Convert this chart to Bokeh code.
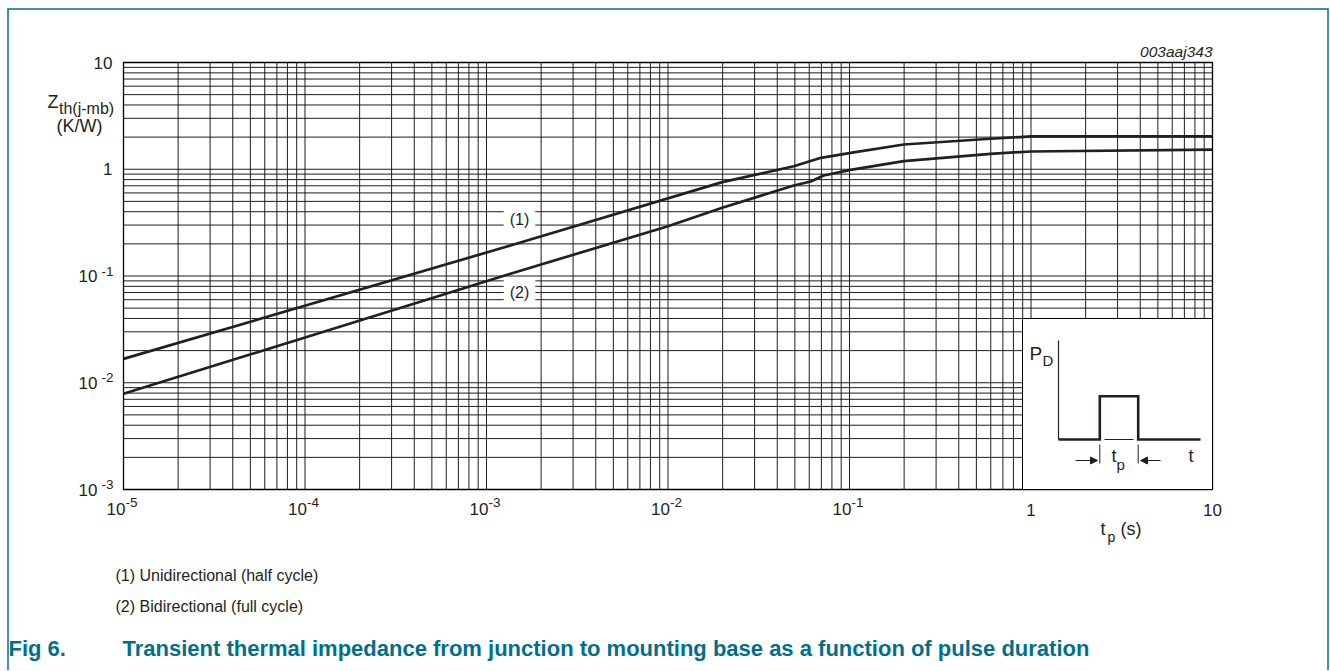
import math
from bokeh.plotting import figure
from bokeh.models import Range1d, LinearScale, Label, Arrow, NormalHead
from bokeh.embed import file_html
from bokeh.resources import INLINE

# ---------------- data ----------------
t_curve1 = [1e-5, 1.355e-3, 0.0199, 0.0493, 0.0697, 0.1015, 0.199, 0.598, 1.0, 10.0]
z_curve1 = [0.01675, 0.193, 0.757, 1.068, 1.28, 1.426, 1.706, 1.93, 2.03, 2.03]

t_curve2 = [1e-5, 1.355e-3, 0.0099, 0.0199, 0.0493, 0.0612, 0.0721, 0.1015, 0.199, 0.598, 1.0, 10.0]
z_curve2 = [0.00788, 0.105, 0.291, 0.436, 0.705, 0.767, 0.873, 0.988, 1.19, 1.396, 1.467, 1.53]

x_decades = [-5, -4, -3, -2, -1, 0, 1]
y_decades = [-3, -2, -1, 0, 1]

curve_labels = ["(1)", "(2)"]
legend_lines = ["(1) Unidirectional (half cycle)", "(2) Bidirectional (full cycle)"]
fig_number = "Fig 6."
fig_caption = "Transient thermal impedance from junction to mounting base as a function of pulse duration"
doc_code = "003aaj343"

# ---------------- layout ----------------
W, H = 1330, 670
PL, PR, PT, PB = 123, 1212, 62, 489          # plot area on the page
FONT = "Liberation Sans"
INK = "#231f20"
TEAL = "#00708a"

xmin, xmax = 10.0 ** x_decades[0], 10.0 ** x_decades[-1]
ymin, ymax = 10.0 ** y_decades[0], 10.0 ** y_decades[-1]
dx = (PR - PL) / (x_decades[-1] - x_decades[0])
dy = (PB - PT) / (y_decades[-1] - y_decades[0])
x_lo = 10 ** (x_decades[0] - PL / dx)
x_hi = 10 ** (x_decades[-1] + (W - PR) / dx)
y_lo = 10 ** (y_decades[0] - (H - PB) / dy)
y_hi = 10 ** (y_decades[-1] + PT / dy)

p = figure(width=W, height=H, x_axis_type="log", y_axis_type="log",
           x_range=Range1d(x_lo, x_hi), y_range=Range1d(y_lo, y_hi),
           x_axis_location=None, y_axis_location=None,
           output_backend="svg", toolbar_location=None,
           min_border=0, min_border_left=0, min_border_right=0,
           min_border_top=0, min_border_bottom=0)
p.title.visible = False
p.xgrid.visible = False
p.ygrid.visible = False
p.background_fill_color = "white"
p.border_fill_color = "white"
p.outline_line_color = None

# page-pixel helper ranges for decorations
p.extra_x_ranges = {"px": Range1d(0, W)}
p.extra_x_scales = {"px": LinearScale()}
p.extra_y_ranges = {"py": Range1d(H, 0)}
p.extra_y_scales = {"py": LinearScale()}

# grid: every 1..9 x decade, limited to the plot area
xt = [m * 10.0 ** d for d in x_decades[:-1] for m in range(1, 10)] + [xmax]
yt = [m * 10.0 ** d for d in y_decades[:-1] for m in range(1, 10)] + [ymax]
p.segment(x0=xt, x1=xt, y0=[ymin] * len(xt), y1=[ymax] * len(xt),
          line_color="#111111", line_width=1, line_alpha=0.95)
p.segment(x0=[xmin] * len(yt), x1=[xmax] * len(yt), y0=yt, y1=yt,
          line_color="#111111", line_width=1, line_alpha=0.95)
p.line([xmin, xmax, xmax, xmin, xmin], [ymin, ymin, ymax, ymax, ymin],
       line_color="black", line_width=1.3)

# curves
p.line(t_curve1, z_curve1, line_width=2.7, line_color=INK, line_join="round")
p.line(t_curve2, z_curve2, line_width=2.7, line_color=INK, line_join="round")


def lab(x, y, text, size, align="left", baseline="middle", color=INK, style="normal",
        xr="px", yr="py", xo=0, yo=0, bg=None, pad=0):
    kw = dict(x=x, y=y, text=text, text_font=FONT, text_font_size=f"{size}px",
              text_align=align, text_baseline=baseline, text_color=color,
              text_font_style=style, x_offset=xo, y_offset=yo)
    if xr != "default":
        kw["x_range_name"] = xr
    if yr != "default":
        kw["y_range_name"] = yr
    if bg is not None:
        kw["background_fill_color"] = bg
        kw["padding"] = pad
    p.add_layout(Label(**kw))


def pline(xs, ys, color=INK, width=1.0, join="miter"):
    p.line(xs, ys, x_range_name="px", y_range_name="py", line_color=color,
           line_width=width, line_join=join)


def arrow(x0, y0, x1, y1):
    p.add_layout(Arrow(end=NormalHead(size=7, fill_color=INK, line_color=INK),
                       x_start=x0, y_start=y0, x_end=x1, y_end=y1,
                       x_range_name="px", y_range_name="py",
                       line_color=INK, line_width=1))


# x tick labels
for d in x_decades:
    if d < 0:
        lab(10.0 ** d, 508, "10", 17, align="right", xr="default", xo=2)
        lab(10.0 ** d, 502, f"-{abs(d)}", 13.5, align="left", xr="default", xo=2)
    else:
        lab(10.0 ** d, 509, str(int(10 ** d)), 17, align="center", xr="default")

# y tick labels
for d in y_decades:
    if d < 0:
        lab(97, 10.0 ** d, "10", 17, align="right", yr="default")
        lab(113, 10.0 ** d, f"-{abs(d)}", 13.5, align="right", yr="default", yo=5)
    else:
        lab(112, 10.0 ** d, str(int(10 ** d)), 17, align="right", yr="default")

# axis titles
lab(47, 101.5, "Z", 18)
lab(58.5, 107.5, "th(j-mb)", 16)
lab(79, 125, "(K/W)", 18, align="center")
lab(1100, 528.5, "t", 18)
lab(1107, 536, "p", 14)
lab(1120, 528.5, "(s)", 18)

# document code
lab(1212, 51, doc_code, 15.5, align="right", style="italic")

# curve labels
lab(519, 219, curve_labels[0], 16, align="center", bg="white", pad=6)
lab(519, 292, curve_labels[1], 16, align="center", bg="white", pad=6)

# inset (pulse sketch)
p.quad(left=1022, right=PR, top=318, bottom=PB, x_range_name="px", y_range_name="py",
       fill_color="white", line_color="black", line_width=1)
pline([1058, 1058], [340, 439], width=1.2)
pline([1058, 1099.3, 1099.3, 1137.7, 1137.7, 1200], [439, 439, 395.7, 395.7, 439, 439], width=2.6)
pline([1104, 1133], [439, 439], width=1)
pline([1099.3, 1099.3], [444, 463], width=1)
pline([1137.7, 1137.7], [444, 463], width=1)
arrow(1075, 460, 1097, 460)
arrow(1160, 460, 1140, 460)
lab(1029, 353, "P", 19)
lab(1042, 360, "D", 15)
lab(1111, 455, "t", 18)
lab(1116, 464, "p", 15)
lab(1188, 455, "t", 18)

# legend lines and caption
lab(115, 575, legend_lines[0], 16)
lab(115, 606, legend_lines[1], 16)
lab(8, 648, fig_number, 22, color=TEAL, style="bold")
lab(122, 648, fig_caption, 22, color=TEAL, style="bold")

# page frame (teal border)
pline([7.5, 7.5, 1327.5, 1327.5], [H, 8.5, 8.5, H], color=TEAL, width=1.5)

open("out.html", "w").write(file_html(p, INLINE))
